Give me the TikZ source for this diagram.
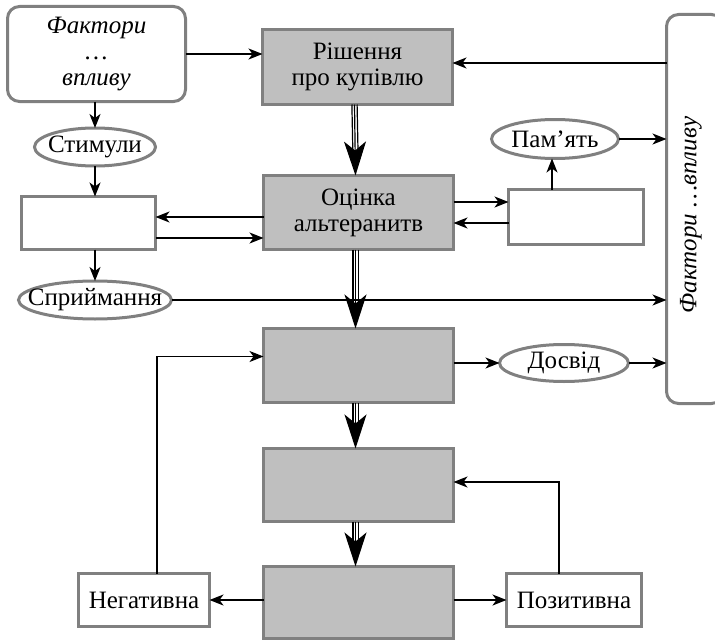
\documentclass[tikz,border=0pt]{standalone}
\usepackage{fontspec}
\setmainfont{Liberation Serif}
\usetikzlibrary{arrows.meta,shapes.geometric,calc}
\definecolor{bfill}{HTML}{BFBFBF}
\definecolor{bdraw}{HTML}{808080}
\begin{document}
\begin{tikzpicture}[x=1pt,y=-1pt,
  font=\fontsize{25}{26}\selectfont,
  gbox/.style={draw=bdraw,fill=bfill,line width=3pt,inner sep=0pt,outer sep=0pt,align=center},
  wbox/.style={draw=bdraw,fill=white,line width=3pt,inner sep=0pt,outer sep=0pt,align=center},
  oval/.style={ellipse,draw=bdraw,fill=white,line width=3pt,inner sep=0pt,outer sep=0pt},
  rbox/.style={wbox,rounded corners=12pt},
  arr/.style={line width=1.5pt,-{Stealth[length=14pt,width=11pt,inset=4pt]}},
  bigarr/.style={line width=1.2pt,-{Stealth[length=34pt,width=22pt,inset=9pt]}},
  triline/.style={line width=1.2pt},
]
\useasboundingbox (0,0) rectangle (715,642);

% nodes
\node[rbox,minimum width=178pt,minimum height=95pt,font=\fontsize{25}{26}\selectfont\itshape] (f1) at (96.5,54) {Фактори\\…\\впливу};
\node[gbox,minimum width=190pt,minimum height=75pt] (b1) at (357.5,67) {Рішення\\про купівлю};
\node[gbox,minimum width=190pt,minimum height=74pt] (b2) at (358.5,212.5) {Оцінка\\альтеранитв};
\node[gbox,minimum width=190pt,minimum height=74pt] (b3) at (358.5,365.5) {};
\node[gbox,minimum width=190pt,minimum height=73pt] (b4) at (358.5,485) {};
\node[gbox,minimum width=190pt,minimum height=72pt] (b5) at (358.5,602.5) {};
\node[oval,minimum width=121pt,minimum height=38pt,label=center:{Стимули}] (stim) at (95,147) {};
\node[wbox,minimum width=134pt,minimum height=53pt] (lbox) at (88.5,223) {};
\node[oval,minimum width=153pt,minimum height=38pt,label=center:{Сприймання}] (spr) at (95,300) {};
\node[oval,minimum width=127pt,minimum height=39pt,label=center:{Пам’ять}] (pam) at (555,139) {};
\node[oval,minimum width=129pt,minimum height=37pt,label=center:{Досвід}] (dos) at (564,363) {};
\node[wbox,minimum width=135pt,minimum height=55pt] (rb2) at (576,217) {};
\node[wbox,minimum width=131pt,minimum height=53pt] (neg) at (144,600) {Негативна};
\node[wbox,minimum width=135pt,minimum height=53pt] (pos) at (574,600) {Позитивна};
\node[rbox,minimum width=57pt,minimum height=389pt] (fr) at (695,209) {};
\node[rotate=90,font=\fontsize{25}{26}\selectfont\itshape] (frt) at (691,215) {Фактори …впливу};

% connectors
\draw[arr] (f1.east) -- (f1.east -| b1.west);
\draw[arr] ([yshift=4pt]b1.east -| fr.west) -- ([yshift=4pt]b1.east);
\draw[arr] (stim.north |- f1.south) -- (stim.north);
\draw[arr] (stim.south) -- (stim.south |- lbox.north);
\draw[arr] (spr.north |- lbox.south) -- (spr.north);
\draw[arr] ([yshift=6pt]lbox.east -| b2.west) -- ([yshift=6pt]lbox.east);
\draw[arr] ([yshift=-15pt]lbox.east) -- ([yshift=-15pt]lbox.east -| b2.west);
\draw[arr] ([yshift=15pt]rb2.west -| b2.east) -- ([yshift=15pt]rb2.west);
\draw[arr] ([yshift=-6pt]rb2.west) -- ([yshift=-6pt]rb2.west -| b2.east);
\draw[arr] ([xshift=-3pt]pam.south |- rb2.north) -- ([xshift=-3pt]pam.south);
\draw[arr] (pam.east) -- (pam.east -| fr.west);
\draw[arr] (spr.east) -- (spr.east -| fr.west);
\draw[arr] (dos.west -| b3.east) -- (dos.west);
\draw[arr] (dos.east) -- (dos.east -| fr.west);
\draw[arr] (neg.east -| b5.west) -- (neg.east);
\draw[arr] (pos.west -| b5.east) -- (pos.west);
\draw[arr] ([xshift=13pt]neg.north) |- ([yshift=9pt]b3.west);
\draw[arr] ([xshift=-15pt]pos.north) |- ([yshift=3pt]b4.east);

% triple arrows
\foreach \a/\b in {b1/b2,b2/b3,b3/b4,b4/b5}{
  \draw[triline] ([xshift=-5.6pt]\a.south) -- ([xshift=-5.6pt,yshift=20pt]\b.north);
  \draw[triline] ([xshift=-0.4pt]\a.south) -- ([xshift=-0.4pt,yshift=20pt]\b.north);
  \draw[bigarr] ([xshift=-3pt]\a.south) -- ([xshift=-3pt]\b.north);
}
\end{tikzpicture}
\end{document}
